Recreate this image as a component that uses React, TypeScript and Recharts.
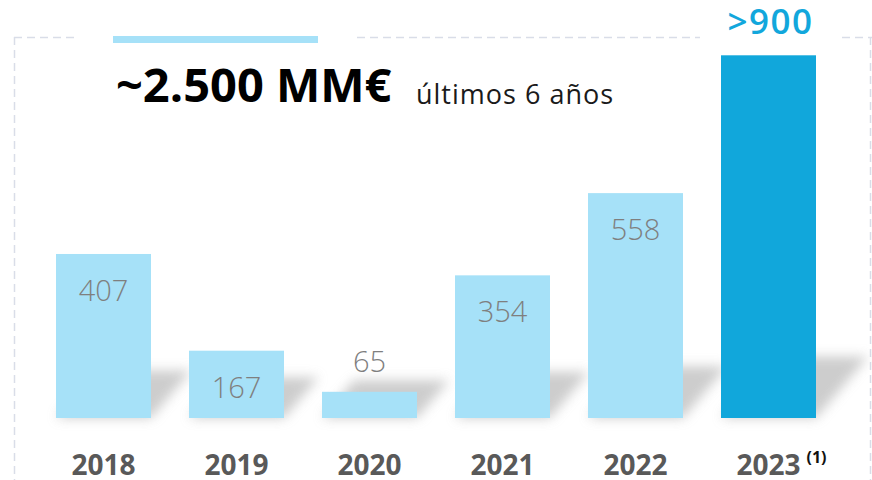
import React from "react";
import { BarChart, Bar, XAxis, YAxis, Cell, LabelList } from "recharts";

const YEARS = ["2018", "2019", "2020", "2021", "2022", "2023"];
const VALUES = [407, 167, 65, 354, 558, 900];
const VALUE_LABELS = ["407", "167", "65", "354", "558", ">900"];
const NOTES = ["", "", "", "", "", "(1)"];

const LIGHT = "#a6e1f8";
const DARK = "#11a7db";
const FONT = "'Open Sans', 'Noto Sans', sans-serif";

const data = YEARS.map((y, i) => ({
  year: y,
  value: VALUES[i],
  label: VALUE_LABELS[i],
  note: NOTES[i],
}));

function ShadowBar(props: any) {
  const { x, y, width, height, fill } = props;
  if (!height) return null;
  const b = y + height;
  const d = 36 + 0.07 * height;
  const dx = d * 0.85;
  const pts = `${x},${b} ${x + width},${b} ${x + width + dx},${b - d} ${x + dx},${b - d}`;
  return (
    <g>
      <polygon points={pts} fill="#b8b8b8" opacity={0.7} filter="url(#barShadow)" />
      <rect x={x} y={y} width={width} height={height} fill={fill} />
    </g>
  );
}

function ValueLabel(props: any) {
  const { x, y, width, height, value } = props;
  const cx = x + width / 2;
  if (value === ">900") {
    return (
      <text x={cx + 2} y={y - 21} textAnchor="middle" fontFamily={FONT} fontSize={35} fontWeight={600} fill="#12a7dc" letterSpacing={1.5}>
        {value}
      </text>
    );
  }
  const inside = height > 40;
  return (
    <text
      x={cx}
      y={inside ? y + 47 : y - 20}
      textAnchor="middle"
      fontFamily={FONT}
      fontSize={29}
      fontWeight={300}
      fill="#7f7f7f"
    >
      {value}
    </text>
  );
}

function YearTick(props: any) {
  const { x, y, payload, index } = props;
  const note = NOTES[index ?? 0];
  return (
    <g>
      <text x={x} y={y + 49} textAnchor="middle" fontFamily={FONT} fontSize={28} fontWeight={700} fill="#595959">
        {payload.value}
      </text>
      {note ? (
        <text x={x + 38} y={y + 37} textAnchor="start" fontFamily={FONT} fontSize={16} fontWeight={700} fill="#111">
          {note}
        </text>
      ) : null}
    </g>
  );
}

export default function App() {
  return (
    <div style={{ position: "absolute", left: 0, top: 0, width: 872, height: 480, background: "#fff" }}>
      <svg width={872} height={480} style={{ position: "absolute", left: 0, top: 0 }}>
        <defs>
          <filter id="barShadow" x="-50%" y="-50%" width="200%" height="200%">
            <feGaussianBlur stdDeviation={6} />
          </filter>
        </defs>
        <g stroke="#d9dde8" strokeWidth={1.5} strokeDasharray="8 5" fill="none">
          <line x1={14} y1={37.5} x2={77} y2={37.5} />
          <line x1={357} y1={37.5} x2={700} y2={37.5} />
          <line x1={842} y1={37.5} x2={872} y2={37.5} />
          <line x1={14.5} y1={37} x2={14.5} y2={480} />
          <line x1={870.5} y1={37} x2={870.5} y2={480} />
        </g>
        <rect x={113} y={36} width={205} height={7} fill={LIGHT} />
        <text x={116} y={102} fontFamily={FONT} fontSize={47} fontWeight={700} fill="#000">
          ~2.500 MM€
        </text>
        <text x={416} y={104} fontFamily={FONT} fontSize={27} fill="#1a1a1a" letterSpacing={1}>
          últimos 6 años
        </text>
      </svg>
      <div style={{ position: "absolute", left: 0, top: 0 }}>
        <BarChart
          width={872}
          height={480}
          data={data}
          margin={{ top: 15, right: 37, bottom: 0, left: 37 }}
          barSize={95}
        >
          <YAxis hide domain={[0, 1000]} />
          <XAxis
            dataKey="year"
            axisLine={false}
            tickLine={false}
            height={62}
            interval={0}
            tick={<YearTick />}
          />
          <Bar dataKey="value" isAnimationActive={false} shape={<ShadowBar />}>
            {data.map((d, i) => (
              <Cell key={d.year} fill={i === data.length - 1 ? DARK : LIGHT} />
            ))}
            <LabelList dataKey="label" content={<ValueLabel />} />
          </Bar>
        </BarChart>
      </div>
    </div>
  );
}
